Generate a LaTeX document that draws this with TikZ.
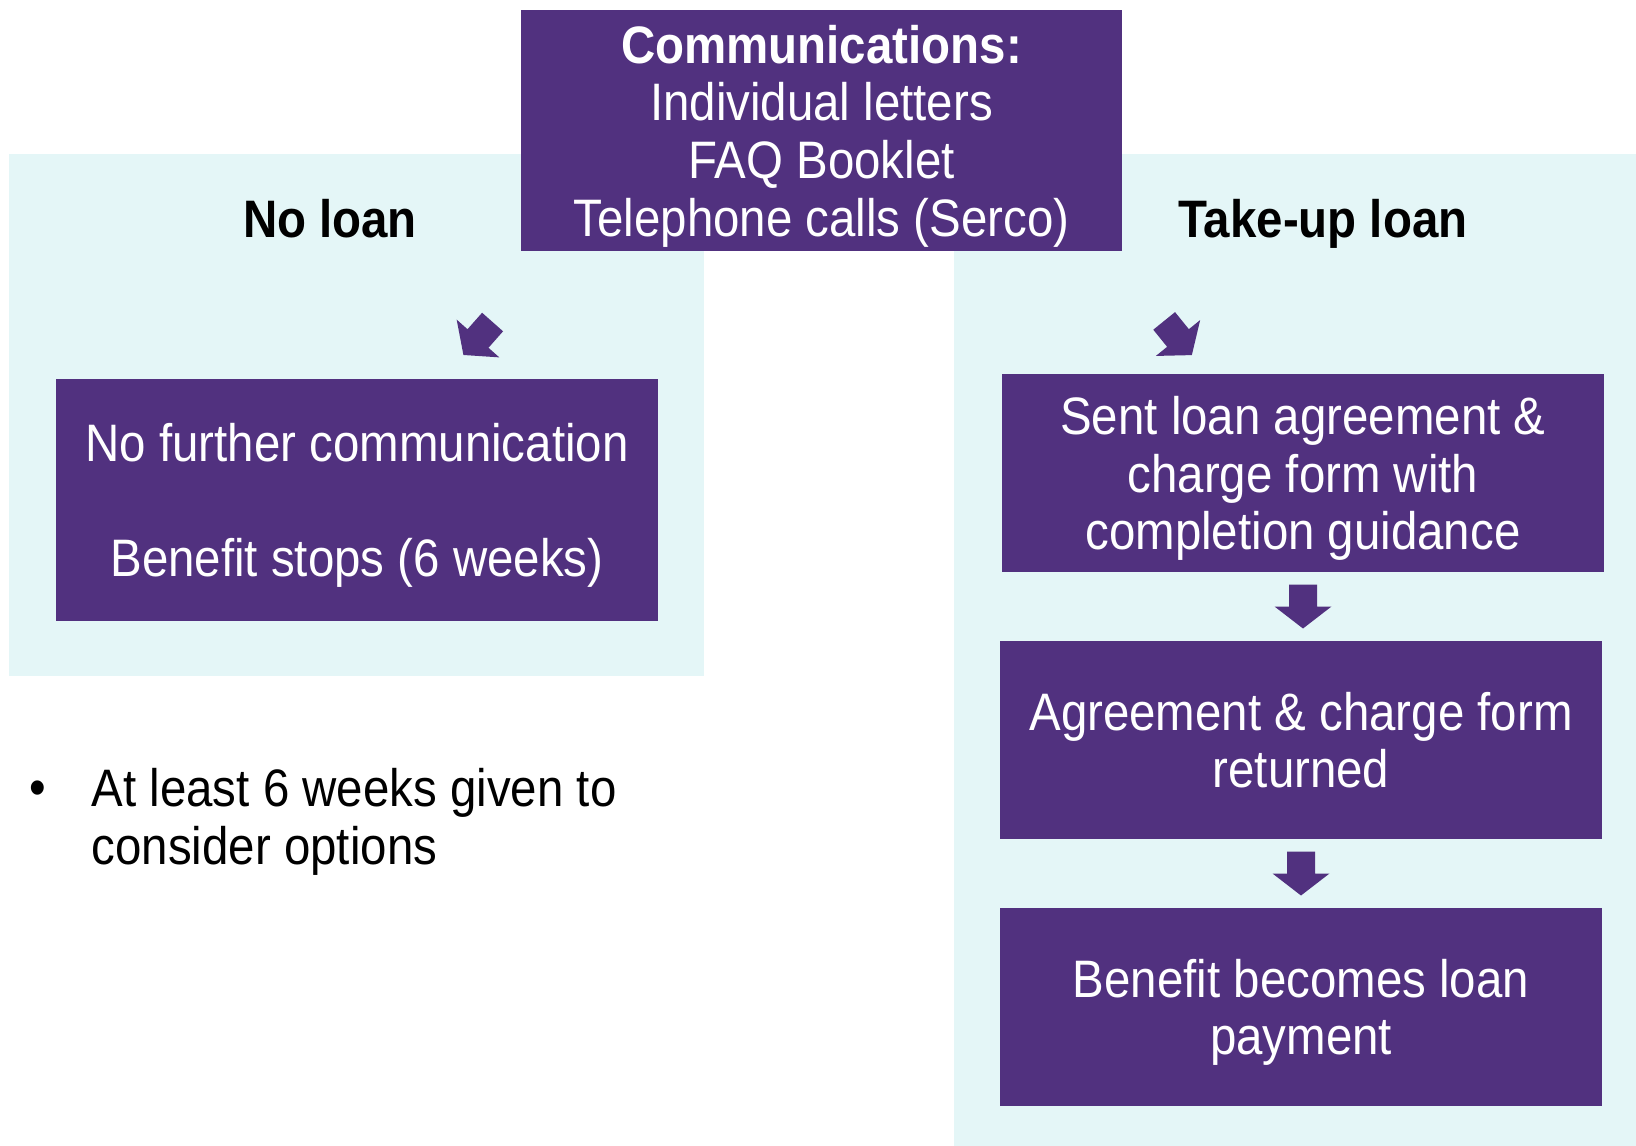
\documentclass[tikz,border=0pt]{standalone}
\usepackage{fontspec}
\setmainfont{Liberation Sans}[FakeStretch=0.9]
\definecolor{loanpurple}{HTML}{51317F}
\definecolor{panelblue}{HTML}{E4F6F7}
\newcommand\tallstrut{\rule{0pt}{14pt}}
\newcommand\deepstrut{\rule[-3.1pt]{0pt}{3.1pt}}

\tikzset{blockarrow/.pic={\fill[loanpurple] (-0.14,0.22) -- (0.14,0.22) -- (0.14,0) -- (0.285,0) -- (0,-0.22) -- (-0.285,0) -- (-0.14,0) -- cycle;}}

\begin{document}
\begin{tikzpicture}[box/.style={fill=loanpurple, text=white, align=center, inner sep=0pt, minimum width=6.02cm, minimum height=1.98cm, font=\fontsize{15}{16.4}\selectfont},
		heading/.style={font=\fontsize{15}{16.4}\selectfont\bfseries, anchor=base},
		plain/.style={font=\fontsize{15}{16.4}\selectfont, align=left, inner sep=0pt}
			]
	\useasboundingbox (0,0) rectangle (16.36,-11.46);
	\fill[panelblue] (0.09,-1.54) rectangle (7.04,-6.76);
	\fill[panelblue] (9.54,-1.54) rectangle (16.36,-11.46);

	\node[box, minimum width=6.01cm, minimum height=2.41cm] (comms) at (8.215,-1.305) {\tallstrut\textbf{Communications:}\\Individual letters\\FAQ Booklet\\Telephone calls (Serco)\deepstrut};

	\node[heading] (noloan) at (3.30,-2.37) {No loan};
	\node[heading] (takeup) at (13.23,-2.37) {Take-up loan};

	\pic[rotate=-41.5] at (4.78,-3.385) {blockarrow};
	\pic[rotate=39] at (11.78,-3.38) {blockarrow};

	\node[box, minimum height=2.42cm] (stops) at (3.57,-5.00) {\tallstrut No further communication\\[16.4pt]Benefit stops (6 weeks)\deepstrut};

	\node[box] (sent) at (13.03,-4.73) {\tallstrut Sent loan agreement \&\\charge form with\\completion guidance\deepstrut};
	\node[box] (returned) at (13.01,-7.40) {\tallstrut Agreement \& charge form\\returned\deepstrut};
	\node[box] (payment) at (13.01,-10.07) {\tallstrut Benefit becomes loan\\payment\deepstrut};

	\pic at (13.03,-6.065) {blockarrow};
	\pic at (13.01,-8.735) {blockarrow};

	\node[plain] (dot) at (0.38,-7.93) {•};
	\node[plain, anchor=west] (weeks) at (0.91,-8.22) {At least 6 weeks given to\\consider options};
 \end{tikzpicture}
\end{document}
